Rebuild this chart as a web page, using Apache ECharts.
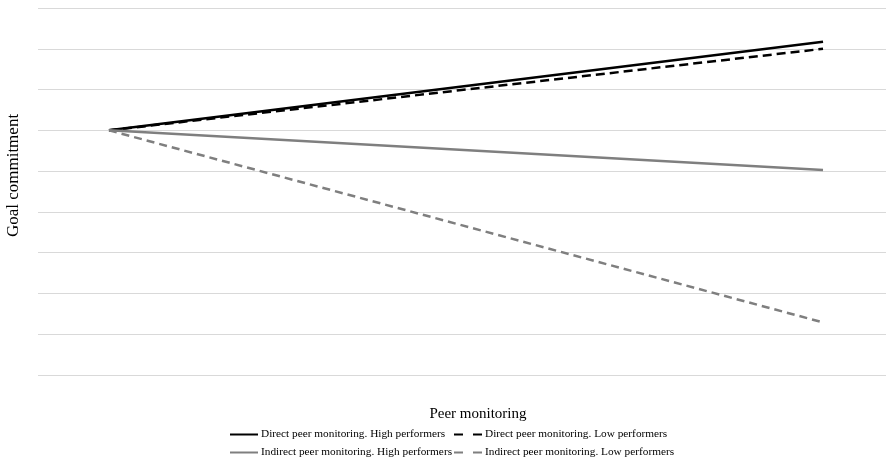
<!DOCTYPE html>
<html>
<head>
<meta charset="utf-8">
<script src="https://cdn.jsdelivr.net/npm/echarts@6/dist/echarts.min.js"></script>
<style>
html,body{margin:0;padding:0;background:#fff;}
#chart{width:886px;height:457px;}
</style>
</head>
<body>
<div id="chart"></div>
<script>
// Peer monitoring levels (low = 0, high = 1)
var peerMonitoring = [0, 1];
var seriesNames = [
  'Direct peer monitoring. High performers',
  'Direct peer monitoring. Low performers',
  'Indirect peer monitoring. High performers',
  'Indirect peer monitoring. Low performers'
];
var directHigh = [6.0, 8.17];
var directLow = [6.0, 8.0];
var indirectHigh = [6.0, 5.03];
var indirectLow = [6.0, 1.29];

var FONT = '"Liberation Serif", "Times New Roman", serif';
function pairs(ys) { return peerMonitoring.map(function (x, i) { return [x, ys[i]]; }); }

var dashLegend = [9, 10];
function legendFor(name, left, top, dashed) {
  var item = { name: name };
  if (dashed) item.lineStyle = { type: dashLegend };
  return {
    left: left, top: top, itemWidth: 28, itemHeight: 10, padding: 0,
    itemStyle: { opacity: 0, color: 'rgba(0,0,0,0)', borderWidth: 0 },
    textStyle: { fontFamily: FONT, fontSize: 11.3, color: '#000', padding: [0, 0, 0, -2] },
    data: [item]
  };
}

var chart = echarts.init(document.getElementById('chart'));
chart.setOption({
  backgroundColor: '#ffffff',
  animation: false,
  grid: { left: 38, right: 0, top: 8, bottom: 82, containLabel: false },
  xAxis: {
    type: 'value', min: -0.0994, max: 1.0882,
    name: 'Peer monitoring', nameLocation: 'middle', nameGap: 32,
    nameTextStyle: { fontFamily: FONT, fontSize: 15, color: '#000', padding: [0, 0, 0, 32] },
    axisLine: { show: false }, axisTick: { show: false }, axisLabel: { show: false }, splitLine: { show: false }
  },
  yAxis: {
    type: 'value', min: 0, max: 9, interval: 1,
    axisLine: { show: false }, axisTick: { show: false }, axisLabel: { show: false },
    splitLine: { show: true, lineStyle: { color: '#d9d9d9', width: 1 } }
  },
  graphic: [{
    type: 'text', x: 14, y: 175.5, rotation: Math.PI / 2,
    style: { text: 'Goal commitment', fontFamily: FONT, fontSize: 17, fill: '#000', align: 'center', verticalAlign: 'middle' }
  }],
  legend: [
    legendFor(seriesNames[0], 229, 429, false),
    legendFor(seriesNames[1], 453, 429, true),
    legendFor(seriesNames[2], 229, 447, false),
    legendFor(seriesNames[3], 453, 447, true)
  ],
  series: [
    { name: seriesNames[0], type: 'line', data: pairs(directHigh), symbol: 'none', lineStyle: { color: '#000', width: 2.5 }, itemStyle: { color: '#000' } },
    { name: seriesNames[1], type: 'line', data: pairs(directLow), symbol: 'none', lineStyle: { color: '#000', width: 2.5, type: [9, 5] }, itemStyle: { color: '#000' } },
    { name: seriesNames[2], type: 'line', data: pairs(indirectHigh), symbol: 'none', lineStyle: { color: '#7f7f7f', width: 2.5 }, itemStyle: { color: '#7f7f7f' } },
    { name: seriesNames[3], type: 'line', data: pairs(indirectLow), symbol: 'none', lineStyle: { color: '#7f7f7f', width: 2.5, type: [8, 5] }, itemStyle: { color: '#7f7f7f' } }
  ]
});
</script>
</body>
</html>
